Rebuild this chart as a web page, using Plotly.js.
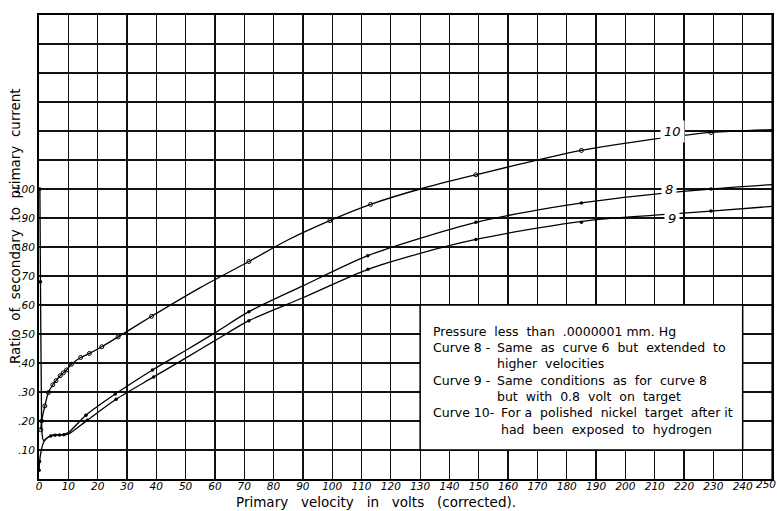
<!DOCTYPE html>
<html><head><meta charset="utf-8">
<script src="https://cdn.plot.ly/plotly-3.0.1.min.js"></script>
<style>html,body{margin:0;padding:0;background:#fff}#chart{width:777px;height:511px}</style>
</head><body><div id="chart"></div>
<script>
// ---- data ----
// curve 10 (polished nickel after hydrogen)
const c10X = [0.6, 0.9, 2, 3.2, 4.7, 5.8, 7.2, 8.3, 9.4, 11.1, 14.2, 17.2, 21.4, 27, 38.4, 55, 71.6, 85, 99.2, 113.1, 130, 149, 174.3, 185, 205, 229.2, 250];
const c10Y = [0.17, 0.20, 0.252, 0.298, 0.325, 0.339, 0.356, 0.366, 0.376, 0.396, 0.419, 0.433, 0.456, 0.49, 0.561, 0.66, 0.75, 0.825, 0.891, 0.947, 1.0, 1.049, 1.11, 1.133, 1.165, 1.195, 1.205];
const c10PtsX = [0.6, 0.9, 2, 3.2, 4.7, 5.8, 7.2, 8.3, 9.4, 11.1, 14.2, 17.2, 21.4, 27, 38.4, 71.6, 99.2, 113.1, 149, 185, 229.2];
const c10PtsY = [0.17, 0.20, 0.252, 0.298, 0.325, 0.339, 0.356, 0.366, 0.376, 0.396, 0.419, 0.433, 0.456, 0.49, 0.561, 0.75, 0.891, 0.947, 1.049, 1.133, 1.195];

// curve 8
const c8X = [0.05, 0.2, 0.8, 1.5, 2.5, 4, 6, 8, 10, 16, 26, 38.7, 50, 60, 71.6, 90, 112.1, 130, 149, 174.3, 191, 210, 229.2, 250];
const c8Y = [0.03, 0.06, 0.10, 0.125, 0.14, 0.148, 0.152, 0.153, 0.16, 0.22, 0.293, 0.376, 0.443, 0.504, 0.577, 0.666, 0.77, 0.83, 0.885, 0.935, 0.96, 0.982, 1.0, 1.015];
const c8PtsX = [0.05, 0.2, 4, 5.5, 7, 8.5, 16, 26, 38.7, 71.6, 112.1, 149, 185, 229.2];
const c8PtsY = [0.03, 0.06, 0.148, 0.151, 0.152, 0.153, 0.22, 0.293, 0.376, 0.577, 0.77, 0.885, 0.952, 1.0];

// curve 9
const c9X = [0.3, 0.5, 0.8, 1.1, 1.6, 2.5, 4, 6, 8, 10, 16.5, 26.3, 39.1, 50, 60, 71.6, 90, 112.2, 130, 149, 174.3, 191, 210, 229.2, 250];
const c9Y = [1.0, 0.68, 0.30, 0.15, 0.132, 0.14, 0.15, 0.153, 0.152, 0.155, 0.203, 0.275, 0.352, 0.417, 0.477, 0.546, 0.625, 0.723, 0.778, 0.826, 0.872, 0.895, 0.91, 0.924, 0.94];
const c9PtsX = [0.3, 0.5, 16.5, 26.3, 39.1, 71.6, 112.2, 149, 185, 229.2];
const c9PtsY = [1.0, 0.68, 0.203, 0.275, 0.352, 0.546, 0.723, 0.826, 0.885, 0.924];

// tick labels
const xTickVals = [0,10,20,30,40,50,60,70,80,90,100,110,120,130,140,150,160,170,180,190,200,210,220,230,240,250];
const xTickText = ["0","10","20","30","40","50","60","70","80","90","100","110","120","130","140","150","160","170","180","190","200","210","220","230","240","250"];
const yTickVals = [0,0.1,0.2,0.3,0.4,0.5,0.6,0.7,0.8,0.9,1.0,1.1,1.2,1.3,1.4,1.5,1.6];
const yTickText = ["",".10",".20",".30",".40",".50",".60",".70",".80",".90","100","","","","","",""];

const curveLabels = ["10", "8", "9"];
const legendLines = [
  ["Pressure  less  than  .0000001 mm. Hg", ""],
  ["Curve 8 -", "Same  as  curve 6  but  extended  to"],
  ["", "higher  velocities"],
  ["Curve 9 -", "Same  conditions  as  for  curve 8"],
  ["", "but  with  0.8  volt  on  target"],
  ["Curve 10-", "For a  polished  nickel  target  after it"],
  ["", "had  been  exposed  to  hydrogen"]
];

// ---- layout helpers (pixel -> paper) ----
const ML = 39, MR = 5, MT = 15, MB = 32, W = 777, H = 511;
const PW = W - ML - MR, PH = H - MT - MB;
const px2x = p => (p - ML) / PW;
const py2y = p => (H - MB - p) / PH;

const FONT = "DejaVu Sans, sans-serif";
const lineStyle = {color: "#000", width: 1.3, shape: "spline", smoothing: 0.8};
const mk = {symbol: "circle-open", size: 4, color: "#000", line: {width: 1, color: "#000"}};

const traces = [
  {x: c10X, y: c10Y, mode: "lines", line: lineStyle, hoverinfo: "skip"},
  {x: c8X, y: c8Y, mode: "lines", line: lineStyle, hoverinfo: "skip"},
  {x: c9X, y: c9Y, mode: "lines", line: lineStyle, hoverinfo: "skip"},
  {x: c10PtsX, y: c10PtsY, mode: "markers", marker: mk},
  {x: c8PtsX, y: c8PtsY, mode: "markers", marker: {symbol: "circle", size: 3.5, color: "#000"}},
  {x: c9PtsX, y: c9PtsY, mode: "markers", marker: {symbol: "circle", size: 3.5, color: "#000"}}
];

const annotations = [];
// curve labels, sitting on gridlines with a white gap
const labelPos = [[216, 1.2], [215, 1.0], [216, 0.9]];
curveLabels.forEach((t, i) => annotations.push({
  x: labelPos[i][0], y: labelPos[i][1], xref: "x", yref: "y", text: t, showarrow: false,
  font: {family: FONT, size: 13, color: "#000", style: "italic"}, bgcolor: "#fff", borderpad: 3
}));
// legend box text
const legTop = 331, legStep = 16.35;
legendLines.forEach((pair, i) => {
  const py = legTop + i * legStep;
  if (pair[0]) annotations.push({x: px2x(431), y: py2y(py), xref: "paper", yref: "paper", xanchor: "left", yanchor: "middle",
    text: pair[0], showarrow: false, font: {family: FONT, size: 12.5, color: "#000"}});
  if (pair[1]) annotations.push({x: px2x(i >= 5 ? 499 : 495), y: py2y(py), xref: "paper", yref: "paper", xanchor: "left", yanchor: "middle",
    text: pair[1], showarrow: false, font: {family: FONT, size: 12.5, color: "#000"}});
});
// axis titles
annotations.push({x: px2x(376), y: py2y(502), xref: "paper", yref: "paper", xanchor: "center", yanchor: "middle",
  text: "Primary   velocity   in   volts   (corrected).", showarrow: false, font: {family: FONT, size: 13.5, color: "#000"}});
annotations.push({x: px2x(15), y: py2y(226), xref: "paper", yref: "paper", xanchor: "center", yanchor: "middle", textangle: -90,
  text: "Ratio  of  secondary  to  primary  current", showarrow: false, font: {family: FONT, size: 13.5, color: "#000"}});
// last x tick label, kept inside the page at its right edge
annotations.push({x: px2x(777), y: py2y(484), xref: "paper", yref: "paper", xanchor: "right", yanchor: "middle",
  text: xTickText[xTickText.length - 1], showarrow: false, borderpad: 0, font: {family: FONT, size: 10.5, color: "#000", style: "italic"}});

const layout = {
  width: W, height: H,
  margin: {l: ML, r: MR, t: MT, b: MB, pad: 0},
  paper_bgcolor: "#fff", plot_bgcolor: "#fff",
  showlegend: false,
  xaxis: {range: [0, 250], tickmode: "array", tickvals: xTickVals.slice(0, -1), ticktext: xTickText.slice(0, -1),
    showgrid: true, gridcolor: "#111", gridwidth: 1.3, zeroline: false,
    showline: true, linecolor: "#000", linewidth: 2, mirror: true, ticks: "", ticklabelstandoff: -4,
    tickfont: {family: FONT, size: 10.5, color: "#000", style: "italic"}, automargin: false, fixedrange: true},
  yaxis: {range: [0, 1.6], tickmode: "array", tickvals: yTickVals, ticktext: yTickText,
    showgrid: true, gridcolor: "#111", gridwidth: 1.3, zeroline: false,
    showline: true, linecolor: "#000", linewidth: 2, mirror: true, ticks: "",
    tickfont: {family: FONT, size: 10.5, color: "#000", style: "italic"}, automargin: false, fixedrange: true},
  shapes: [
    {type: "line", xref: "x", yref: "y", x0: 250, x1: 250, y0: 0, y1: 1.6, line: {color: "#111", width: 1.3}, layer: "below"},
    {type: "rect", xref: "x", yref: "y", x0: 130, x1: 240, y0: 0.1, y1: 0.6,
    fillcolor: "#fff", line: {color: "#000", width: 1.5}, layer: "above"}],
  annotations: annotations
};

Plotly.newPlot("chart", traces, layout, {staticPlot: true, displayModeBar: false});
</script></body></html>
